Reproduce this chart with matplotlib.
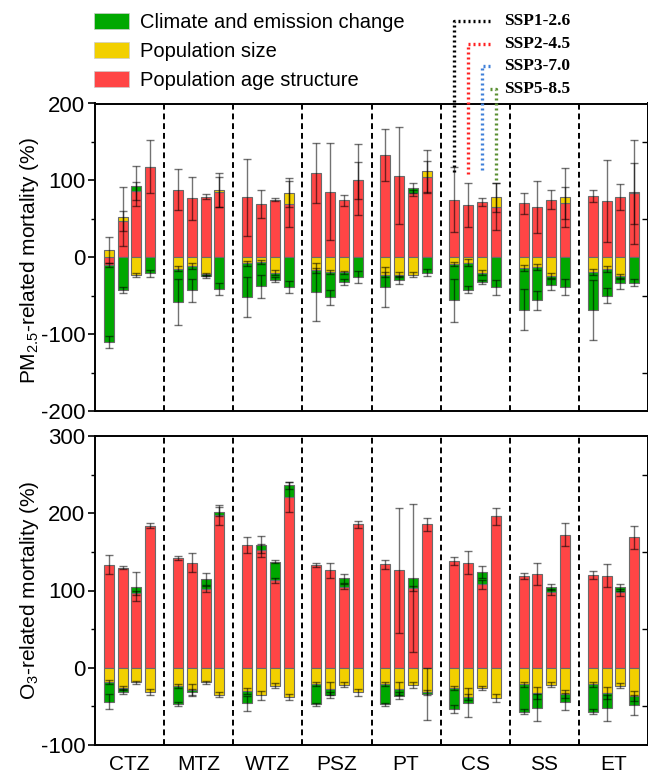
import numpy as np
import matplotlib
matplotlib.use("Agg")
import matplotlib.pyplot as plt
from matplotlib.patches import Patch
from matplotlib.lines import Line2D
from matplotlib.ticker import MultipleLocator

plt.rcParams["font.family"] = ["Liberation Sans", "DejaVu Sans"]
plt.rcParams["mathtext.default"] = "regular"
plt.rcParams["axes.unicode_minus"] = False

# ---------------- data ----------------
regions = ["CTZ", "MTZ", "WTZ", "PSZ", "PT", "CS", "SS", "ET"]
scenarios = ["SSP1-2.6", "SSP2-4.5", "SSP3-7.0", "SSP5-8.5"]
component_names = ["Population age structure", "Population size", "Climate and emission change"]

# PM2.5 panel: contributions (%) per region x scenario
pm_age = [[-10, 47, 86, 118], [88, 77, 79, 85], [78, 69, 75, 69], [109, 85, 74, 100],
          [133, 106, 84, 105], [75, 68, 72, 66], [70, 65, 75, 71], [80, 73, 78, 83]]
pm_size = [[9, 6, -23, 0], [-15, -11, -22, 2], [-8, -6, -20, 15], [-17, -19, -19.5, 1],
           [-22.5, -22.5, -22.5, 7], [-9, -7, -20, 12], [-14, -13, -24, 7], [-19, -15, -25, 2]]
pm_clim = [[-100, -43, 7, -21], [-43, -32, -3, -41], [-44, -32, -9, -39], [-28, -33, -12.5, -25.5],
           [-16.5, -7.5, 6, -20], [-47, -35, -12, -39], [-54, -43, -11.5, -38.5], [-49, -35, -9, -33]]
pm_age_err = [[3, 13, 12, 35], [27, 28, 3, 20], [50, 18, 2, 30], [39, 63, 7, 24],
              [34, 63, 4, 20], [42, 29, 5, 30], [14, 34, 12, 21], [8, 53, 17, 40]]
pm_size_err = [[17, 39, 3, 0], [3, 4, 2, 22], [3, 3, 3, 19], [3, 3, 2, 46],
               [3, 3, 3, 28], [3, 5, 3, 19], [4, 4, 3, 38], [4, 4, 3, 68]]
pm_clim_err = [[8, 4, 26, 5], [30, 15, 2, 8], [26, 15, 3, 8], [38, 10, 4, 8],
               [26, 5, 6, 5], [28, 5, 3, 10], [27, 12, 7, 10], [39, 10, 7, 5]]

# O3 panel
o3_age = [[133.5, 129.6, 97, 184], [142, 136, 102, 198], [159, 152, 113, 221], [133, 126, 105, 185.5],
          [134, 126, 103, 185.5], [138, 136, 108, 196], [118.5, 121, 98, 172], [120, 119, 97.5, 169]]
o3_size = [[-18.5, -26, -19, -31], [-23.6, -29, -19, -35], [-30, -35.6, -23, -38], [-21, -27, -22, -32],
           [-21, -27, -22, -32], [-26, -38, -26, -39], [-21.5, -33, -22, -34], [-21.5, -33, -23, -36.5]]
o3_clim = [[-25.5, -5, 8, 0], [-23.4, -2, 13, 4], [-16, 7, 24, 15], [-26, -8, 11, 0],
           [-26, -9, 13, -2], [-27, -7, 16, 0], [-35.5, -18.5, 7, -10], [-35.5, -19, 6.5, -11.5]]
o3_age_err = [[12, 2, 3, 3], [3, 12, 4, 13], [10, 8, 3, 19], [2, 10, 3, 5],
              [6, 81, 3, 8], [5, 15, 6, 11], [4, 14, 4, 15], [5, 15, 4, 15]]
o3_size_err = [[3, 3, 2, 4], [3, 8, 2, 3], [4, 6, 3, 4], [3, 8, 3, 5],
               [3, 8, 4, 3], [3, 4, 3, 5], [3, 8, 3, 5], [3, 8, 3, 6]]
o3_clim_err = [[10, 3, 19, 0], [3, 4, 8, 6], [10, 11, 2, 4], [2, 4, 6, 0],
               [2, 5, 96, 34], [5, 19, 8, 0], [3, 17, 4, 11], [3, 17, 4, 13]]

# ---------------- style ----------------
RED, YELLOW, GREEN = "#FF4545", "#F2D000", "#00A800"
comp_colors = [RED, YELLOW, GREEN]
ssp_colors = ["#000000", "#FF2020", "#3F7FD9", "#5A8F32"]
offsets = [-0.3, -0.1, 0.1, 0.3]
bar_w = 0.145

W, H = 648, 774
fig = plt.figure(figsize=(W / 100, H / 100), dpi=100)
ax1 = fig.add_axes([95 / W, 1 - 411 / H, (648 - 95) / W, (411 - 103.5) / H])
ax2 = fig.add_axes([95 / W, 1 - 745 / H, (648 - 95) / W, (745 - 436) / H])


def draw_panel(ax, comps, errs):
    n = len(regions)
    x = np.arange(n)
    for j in range(len(scenarios)):
        xs = x + offsets[j]
        pos = np.zeros(n)
        neg = np.zeros(n)
        ends, es = [], []
        for vals, err, col in zip(comps, errs, comp_colors):
            v = np.array(vals, dtype=float)[:, j]
            e = np.array(err, dtype=float)[:, j]
            base = np.where(v >= 0, pos, neg)
            ax.bar(xs, v, bar_w, bottom=base, color=col, edgecolor="#6a6a6a",
                   linewidth=0.8, zorder=2)
            end = base + v
            pos = np.where(v >= 0, end, pos)
            neg = np.where(v < 0, end, neg)
            ends.append(end)
            es.append(e)
        for end, e in zip(ends, es):
            m = e > 0
            ax.errorbar(xs[m], end[m], yerr=e[m], fmt="none", ecolor="black",
                        alpha=0.55, elinewidth=1.0, capsize=2.6, capthick=1.0, zorder=3)
    for k in range(n - 1):
        ax.axvline(k + 0.5, color="black", lw=1.4, ls=(0, (3, 2)), zorder=1)
    ax.set_xlim(-0.5, n - 0.5)
    for s in ax.spines.values():
        s.set_linewidth(1.4)
    ax.tick_params(axis="y", which="major", direction="out", length=5, width=1.2,
                   labelsize=16, pad=2)
    ax.tick_params(axis="y", which="minor", direction="out", length=3, width=1.0)
    ax.yaxis.set_major_locator(MultipleLocator(100))
    ax.yaxis.set_minor_locator(MultipleLocator(50))


draw_panel(ax1, [pm_age, pm_size, pm_clim], [pm_age_err, pm_size_err, pm_clim_err])
draw_panel(ax2, [o3_age, o3_size, o3_clim], [o3_age_err, o3_size_err, o3_clim_err])

ax1.set_ylim(-200, 200)
ax2.set_ylim(-100, 300)
ax1.set_xticks([])
ax2.set_xticks(np.arange(len(regions)))
ax2.set_xticklabels(regions, fontsize=15)
ax2.tick_params(axis="x", length=0, pad=7)

ax1.set_ylabel("PM$_{2.5}$-related mortality (%)", fontsize=15)
ax2.set_ylabel("O$_{3}$-related mortality (%)", fontsize=15)
ax1.yaxis.set_label_coords(-0.098, 0.49)
ax2.yaxis.set_label_coords(-0.098, 0.5)

# right-side inner ticks
for ax in (ax1, ax2):
    sec = ax.secondary_yaxis("right")
    sec.yaxis.set_major_locator(MultipleLocator(100))
    sec.yaxis.set_minor_locator(MultipleLocator(50))
    sec.tick_params(which="major", length=0, labelright=False)
    sec.tick_params(which="minor", direction="in", length=4, width=1.0)
    sec.spines["right"].set_linewidth(1.4)

# legend for components
handles = [Patch(facecolor=GREEN, edgecolor="#cccccc", lw=0.5),
           Patch(facecolor=YELLOW, edgecolor="#cccccc", lw=0.5),
           Patch(facecolor=RED, edgecolor="#cccccc", lw=0.5)]
labels = [component_names[2], component_names[1], component_names[0]]
fig.legend(handles, labels, loc="upper left", bbox_to_anchor=(94 / W, 1 - 13 / H),
           frameon=False, fontsize=14.5, handlelength=1.75, handleheight=0.8,
           handletextpad=0.55, labelspacing=0.5, borderaxespad=0, borderpad=0)

# SSP bracket legend pointing to CS bars
fig.canvas.draw()
cs = regions.index("CS")
ssp_text_y = [21, 44, 66, 89]
ssp_end_val = [109, 104, 109, 98]
line_right_px = 490
text_x_px = 504
for j, name in enumerate(scenarios):
    xb, yb = ax1.transData.transform((cs + offsets[j], ssp_end_val[j]))
    xf = xb / W
    yf_end = yb / H
    yf = 1 - ssp_text_y[j] / H
    fig.add_artist(Line2D([line_right_px / W, xf, xf], [yf, yf, yf_end],
                          transform=fig.transFigure, color=ssp_colors[j], lw=2.4,
                          ls=(0, (0.6, 0.9)), zorder=5, clip_on=False))
    fig.text(text_x_px / W, yf, name, fontsize=12.5, fontweight="bold",
             family=["Liberation Serif", "DejaVu Serif"], va="center", ha="left")

fig.savefig("out.png", dpi=100)
